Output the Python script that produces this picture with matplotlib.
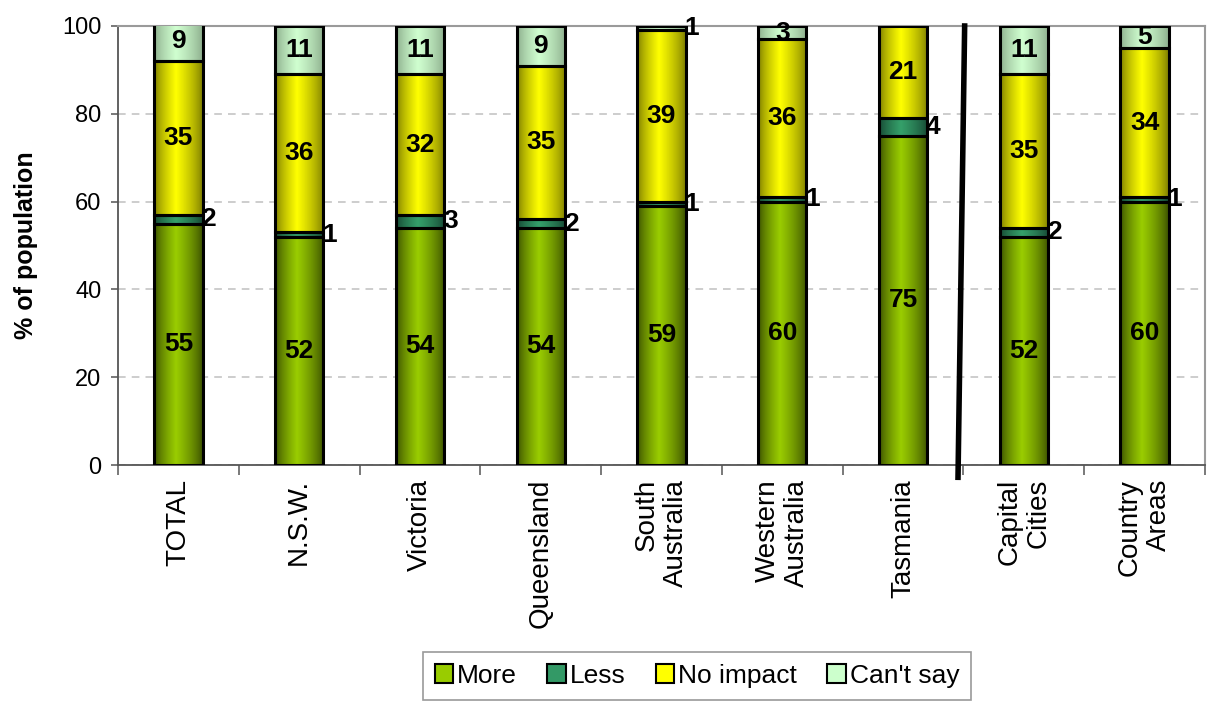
import numpy as np
import matplotlib
matplotlib.use("Agg")
import matplotlib.pyplot as plt
from matplotlib.colors import to_rgb
from matplotlib.patches import Patch
from matplotlib.lines import Line2D

plt.rcParams['font.family'] = ['Liberation Sans', 'DejaVu Sans']

categories = ["TOTAL", "N.S.W.", "Victoria", "Queensland", "South\nAustralia",
              "Western\nAustralia", "Tasmania", "Capital\nCities", "Country\nAreas"]
more = [55, 52, 54, 54, 59, 60, 75, 52, 60]
less = [2, 1, 3, 2, 1, 1, 4, 2, 1]
no_impact = [35, 36, 32, 35, 39, 36, 21, 35, 34]
cant_say = [9, 11, 11, 9, 1, 3, 0, 11, 5]
series_names = ["More", "Less", "No impact", "Can't say"]
y_ticks = [0, 20, 40, 60, 80, 100]

# (edge shade, highlight shade) for each series
shades = [("#364a00", "#9acd00"),
          ("#144230", "#35a06a"),
          ("#777700", "#ffff00"),
          ("#88a888", "#d0ffd0")]
solid = ["#99cc00", "#339966", "#ffff00", "#ccffcc"]


def gradient(edge, mid, n=64, peak=0.45):
    e = np.array(to_rgb(edge))
    m = np.array(to_rgb(mid))
    t = np.linspace(0, 1, n)
    w = np.where(t < peak, t / peak, (1 - t) / (1 - peak))
    w = np.clip(w, 0, 1) ** 0.7
    return (e[None, :] * (1 - w[:, None]) + m[None, :] * w[:, None])[None, :, :]


fig = plt.figure(figsize=(12.12, 7.01), dpi=100)
ax = fig.add_axes([118 / 1212, (701 - 465) / 701, (1205 - 118) / 1212, (465 - 26) / 701])

x = np.arange(len(categories))
width = 0.4
series = [more, less, no_impact, cant_say]
bottom = np.zeros(len(categories))
bar_sets = []
for vals, (edge, mid) in zip(series, shades):
    bars = ax.bar(x, vals, width, bottom=bottom, facecolor="none",
                  edgecolor="black", linewidth=2.2, zorder=4)
    img = gradient(edge, mid)
    for b, v in zip(bars, vals):
        if v <= 0:
            b.set_visible(False)
            continue
        x0, y0 = b.get_x(), b.get_y()
        ax.imshow(img, extent=[x0, x0 + b.get_width(), y0, y0 + b.get_height()],
                  aspect="auto", interpolation="bilinear", zorder=3)
    bar_sets.append((bars, vals))
    bottom += np.array(vals)

ax.set_xlim(-0.5, len(categories) - 0.5)
ax.set_ylim(0, 100)

label_kw = dict(fontsize=19, fontweight="bold", color="black", zorder=6)
for si, (bars, vals) in enumerate(bar_sets):
    for i, (b, v) in enumerate(zip(bars, vals)):
        if v <= 0:
            continue
        cy = b.get_y() + v / 2
        if si == 1 or (si == 3 and v == 1):
            ax.text(b.get_x() + b.get_width() - 0.01, cy, str(v),
                    ha="left", va="center", **label_kw)
        else:
            ax.text(b.get_x() + b.get_width() / 2, min(cy, 98.5), str(v),
                    ha="center", va="center", **label_kw)

# grid
ax.set_yticks(y_ticks)
ax.yaxis.grid(True, linestyle=(0, (5, 4)), color="#c0c0c0", linewidth=1.1, zorder=0)
ax.set_axisbelow(True)

# axes styling
for s in ["left", "bottom"]:
    ax.spines[s].set_color("#555555")
    ax.spines[s].set_linewidth(1.3)
for s in ["top", "right"]:
    ax.spines[s].set_color("#9a9a9a")
    ax.spines[s].set_linewidth(1.5)

ax.tick_params(axis="y", direction="out", length=5, width=1.1, color="#555555",
               labelsize=17, pad=7)
ax.set_xticks(x)
ax.set_xticklabels(categories, rotation=90, fontsize=20, va="top", ha="center",
                   multialignment="right", linespacing=1.15)
ax.tick_params(axis="x", which="major", length=0, pad=10)
ax.set_xticks(np.arange(len(categories) + 1) - 0.5, minor=True)
ax.tick_params(axis="x", which="minor", direction="out", length=7, width=1.1, color="#555555")

ax.set_ylabel("% of population", fontsize=18, fontweight="bold", labelpad=17)

# separator between states and city/country split
ax.add_line(Line2D([6.51, 6.455], [100, -2.8], color="black", linewidth=4,
                   clip_on=False, zorder=7))

handles = [Patch(facecolor=c, edgecolor="black", linewidth=1.5) for c in solid]
leg = fig.legend(handles, series_names, loc="upper center", ncol=4,
                 bbox_to_anchor=(697 / 1212, (701 - 652) / 701), fontsize=19,
                 frameon=True, fancybox=False, edgecolor="#808080",
                 handlelength=0.7, handleheight=0.7, handletextpad=0.15,
                 columnspacing=1.15, borderpad=0.45, borderaxespad=0)
leg.get_frame().set_linewidth(1.2)

fig.savefig("out.png", dpi=100)
